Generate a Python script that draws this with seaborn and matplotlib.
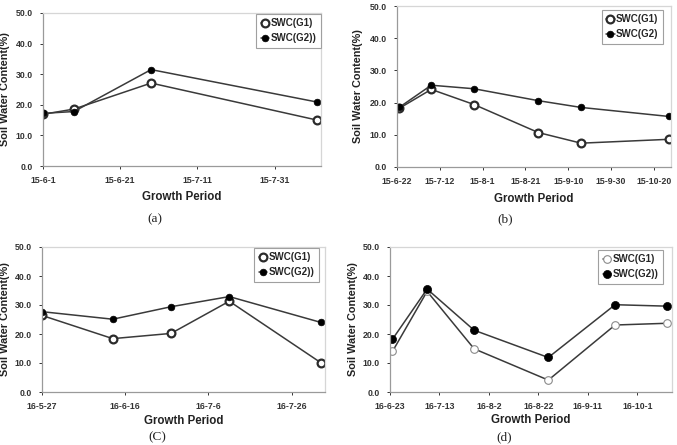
import matplotlib
matplotlib.use("Agg")
import matplotlib.pyplot as plt
import matplotlib.ticker as mticker
import seaborn as sns
import pandas as pd

# ---- data ----
# (a)
dates_a = ["2015-06-01", "2015-06-09", "2015-06-29", "2015-08-11"]
g1_a = [16.9, 18.6, 27.1, 15.0]
g2_a = [17.2, 17.8, 31.5, 20.9]
ticks_a = ["2015-06-01", "2015-06-21", "2015-07-11", "2015-07-31"]
labels_a = ["15-6-1", "15-6-21", "15-7-11", "15-7-31"]
xlim_a = ["2015-06-01", "2015-08-12"]
names_a = ["SWC(G1)", "SWC(G2))"]

# (b)
dates_b = ["2015-06-23", "2015-07-08", "2015-07-28", "2015-08-27", "2015-09-16", "2015-10-27"]
g1_b = [18.2, 24.1, 19.4, 10.7, 7.4, 8.6]
g2_b = [18.5, 25.4, 24.3, 20.6, 18.5, 15.7]
ticks_b = ["2015-06-22", "2015-07-12", "2015-08-01", "2015-08-21",
           "2015-09-10", "2015-09-30", "2015-10-20"]
labels_b = ["15-6-22", "15-7-12", "15-8-1", "15-8-21", "15-9-10", "15-9-30", "15-10-20"]
xlim_b = ["2015-06-22", "2015-10-28"]
names_b = ["SWC(G1)", "SWC(G2)"]

# (C)
dates_c = ["2016-05-27", "2016-06-13", "2016-06-27", "2016-07-11", "2016-08-02"]
g1_c = [26.4, 18.4, 20.2, 31.3, 10.1]
g2_c = [27.7, 25.1, 29.4, 32.9, 24.0]
ticks_c = ["2016-05-27", "2016-06-16", "2016-07-06", "2016-07-26"]
labels_c = ["16-5-27", "16-6-16", "16-7-6", "16-7-26"]
xlim_c = ["2016-05-27", "2016-08-03"]
names_c = ["SWC(G1)", "SWC(G2))"]

# (d)
dates_d = ["2016-06-24", "2016-07-08", "2016-07-27", "2016-08-26", "2016-09-22", "2016-10-13"]
g1_d = [14.0, 34.7, 14.9, 4.1, 23.1, 23.7]
g2_d = [18.2, 35.5, 21.3, 11.9, 30.1, 29.6]
ticks_d = ["2016-06-23", "2016-07-13", "2016-08-02", "2016-08-22", "2016-09-11", "2016-10-01"]
labels_d = ["16-6-23", "16-7-13", "16-8-2", "16-8-22", "16-9-11", "16-10-1"]
xlim_d = ["2016-06-23", "2016-10-15"]
names_d = ["SWC(G1)", "SWC(G2))"]

captions = ["(a)", "(b)", "(C)", "(d)"]

sns.set_style("white")
plt.rcParams["font.family"] = ["Liberation Sans", "DejaVu Sans"]
plt.rcParams["font.weight"] = "bold"

W, H = 677, 445
fig = plt.figure(figsize=(W / 100, H / 100), dpi=100)


def add_ax(left, right, top, bottom):
    return fig.add_axes([left / W, 1 - bottom / H, (right - left) / W, (bottom - top) / H])


hollow = dict(marker="o", ms=5.6, mfc="white", mec="#2b2b2b", mew=1.6)
dot = dict(marker="o", ms=4.8, mfc="black", mec="black", mew=0.5)
open_light = dict(marker="o", ms=5.5, mfc="white", mec="#8a8a8a", mew=0.8)
dot_big = dict(marker="o", ms=5.8, mfc="black", mec="black", mew=0.5)


def panel(ax, dates, g1, g2, ticks, labels, xlim, names, st1, st2, anchor,
          ylab_x, xlab_y, cap_xy):
    df = pd.DataFrame({"date": pd.to_datetime(dates), "G1": g1, "G2": g2})
    sns.lineplot(data=df, x="date", y="G1", ax=ax, color="#3a3a3a", lw=1.1,
                 label=names[0], **st1)
    sns.lineplot(data=df, x="date", y="G2", ax=ax, color="#3a3a3a", lw=1.1,
                 label=names[1], **st2)
    ax.set_xlim(pd.to_datetime(xlim[0]), pd.to_datetime(xlim[1]))
    ax.set_xticks(pd.to_datetime(ticks), labels, fontweight="bold")
    ax.set_ylim(0, 50)
    ax.set_yticks([0, 10, 20, 30, 40, 50])
    ax.yaxis.set_major_formatter(mticker.FormatStrFormatter("%.1f"))
    ax.tick_params(labelsize=6.3, colors="#333333", length=2.5, width=0.7,
                   bottom=True, left=True)
    ax.tick_params(axis="x", pad=4.5)
    ax.tick_params(axis="y", pad=5)
    for s in ["left", "bottom"]:
        ax.spines[s].set_color("#9a9a9a")
        ax.spines[s].set_linewidth(0.9)
    for s in ["top", "right"]:
        ax.spines[s].set_color("#d6d6d6")
        ax.spines[s].set_linewidth(0.9)
    ax.set_xlabel("Growth Period", fontsize=8.3, color="#222222", fontweight="bold")
    ax.set_ylabel("Soil Water Content(%)", fontsize=7.8, color="#222222", fontweight="bold")
    ax.xaxis.set_label_coords(0.5, xlab_y)
    ax.yaxis.set_label_coords(ylab_x, 0.5)
    ax.xaxis.label.set_va("center")
    ax.yaxis.label.set_va("center")
    leg = ax.legend(loc="upper right", bbox_to_anchor=anchor, frameon=True,
                    fancybox=False, edgecolor="#a0a0a0", framealpha=1,
                    prop={"size": 7, "weight": "bold"}, handlelength=0.9,
                    handletextpad=0.15, borderpad=0.45, labelspacing=0.5,
                    borderaxespad=0)
    leg.get_frame().set_linewidth(0.8)
    fig.text(cap_xy[0] / W, 1 - cap_xy[1] / H, captions.pop(0),
             family="Liberation Serif", weight="normal", fontsize=9.5,
             ha="center", va="center", color="#222222")


ax_a = add_ax(43, 321, 13, 166)
panel(ax_a, dates_a, g1_a, g2_a, ticks_a, labels_a, xlim_a, names_a, hollow, dot,
      (1.0, 0.993), (5 - 43) / 278, (166 - 197) / 153, (155, 219))

ax_b = add_ax(397, 671, 6, 167)
panel(ax_b, dates_b, g1_b, g2_b, ticks_b, labels_b, xlim_b, names_b, hollow, dot,
      (0.971, 0.975), (358 - 397) / 274, (167 - 199) / 161, (505, 219))

ax_c = add_ax(42, 325, 247, 392)
panel(ax_c, dates_c, g1_c, g2_c, ticks_c, labels_c, xlim_c, names_c, hollow, dot,
      (0.979, 0.993), (5 - 42) / 283, (392 - 421) / 145, (157, 437))

ax_d = add_ax(390, 672, 247, 392)
panel(ax_d, dates_d, g1_d, g2_d, ticks_d, labels_d, xlim_d, names_d, open_light, dot_big,
      (0.968, 0.979), (353 - 390) / 282, (392 - 420) / 145, (504, 437))

fig.savefig("out.png", dpi=100)
